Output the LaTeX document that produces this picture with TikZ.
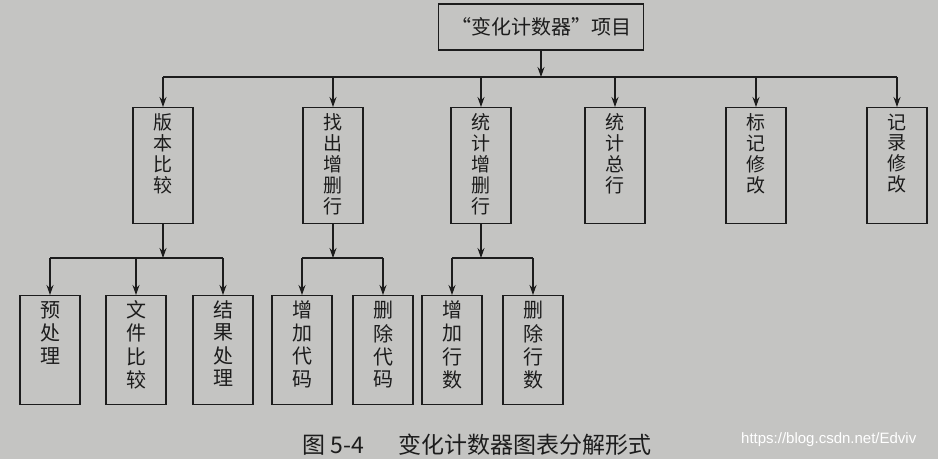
\documentclass[tikz,border=0pt]{standalone}
\usepackage{fontspec}
\setmainfont{Noto Sans CJK SC}
\newfontfamily\urlfont{Liberation Sans}
\usetikzlibrary{arrows.meta}
\definecolor{paper}{HTML}{C4C4C2}
\definecolor{ink}{HTML}{1C1C1C}
\newcommand{\stackchars}[1]{\begin{tabular}[t]{@{}c@{}}#1\end{tabular}}

\begin{document}
\begin{tikzpicture}[x=1pt,y=-1pt,
  line/.style={draw=ink, line width=1.1pt},
  arr/.style={line, -{Stealth[length=10pt,width=7pt]}},
  box/.style={line, text=ink, inner xsep=0pt, inner ysep=5pt, anchor=north, minimum width=60pt, text height=17pt},
  branch/.style={box, text depth=89pt, font=\fontsize{19}{17}\selectfont},
  leaf/.style={box, text depth=82pt, font=\fontsize{20}{22}\selectfont}]
  \fill[paper] (0,0) rectangle (938,459);
  % project
  \node[line, text=ink, minimum width=205pt, minimum height=46pt, font=\fontsize{20}{22}\selectfont] (proj) at (541,27) {“变化计数器”项目};
  \coordinate (bar) at (541,77);
  \draw[arr] (proj) -- (bar);
  % first level
  \foreach \n/\x/\t in {ver/163/{版\\本\\比\\较}, fnd/333/{找\\出\\增\\删\\行}, cnt/481/{统\\计\\增\\删\\行},
                        tot/615/{统\\计\\总\\行}, mrk/756/{标\\记\\修\\改}, rec/897/{记\\录\\修\\改}} {
    \node[branch] (\n) at (\x,107) {\stackchars{\t}};
    \draw[arr] (bar -| \n) -- (\n);}
  \draw[line] (bar -| ver) -- (bar -| rec);
  % second level
  \coordinate (vbar) at (ver.south |- 0,258);
  \coordinate (fbar) at (fnd.south |- 0,258);
  \coordinate (cbar) at (cnt.south |- 0,258);
  \draw[arr] (ver) -- (vbar);
  \draw[arr] (fnd) -- (fbar);
  \draw[arr] (cnt) -- (cbar);
  \foreach \n/\x/\p/\t in {pre/50/vbar/{预\\处\\理}, cmp/136/vbar/{文\\件\\比\\较}, res/223/vbar/{结\\果\\处\\理},
                           addc/302/fbar/{增\\加\\代\\码}, delc/383/fbar/{删\\除\\代\\码},
                           addl/452/cbar/{增\\加\\行\\数}, dell/533/cbar/{删\\除\\行\\数}} {
    \node[leaf] (\n) at (\x,295) {\stackchars{\t}};
    \draw[arr] (\p -| \n) -- (\n);}
  \draw[line] (vbar -| pre) -- (vbar -| res);
  \draw[line] (fbar -| addc) -- (fbar -| delc);
  \draw[line] (cbar -| addl) -- (cbar -| dell);
  % caption
  \node[anchor=west, text=ink, inner sep=0pt, font=\fontsize{23}{25}\selectfont] (cap) at (302,445) {图 5-4\hspace{1.5em}变化计数器图表分解形式};
  \node[anchor=west, text=white, inner sep=0pt, font=\urlfont\fontsize{15}{17}\selectfont] (mark) at (741,440) {https://blog.csdn.net/Edviv};
\end{tikzpicture}
\end{document}
